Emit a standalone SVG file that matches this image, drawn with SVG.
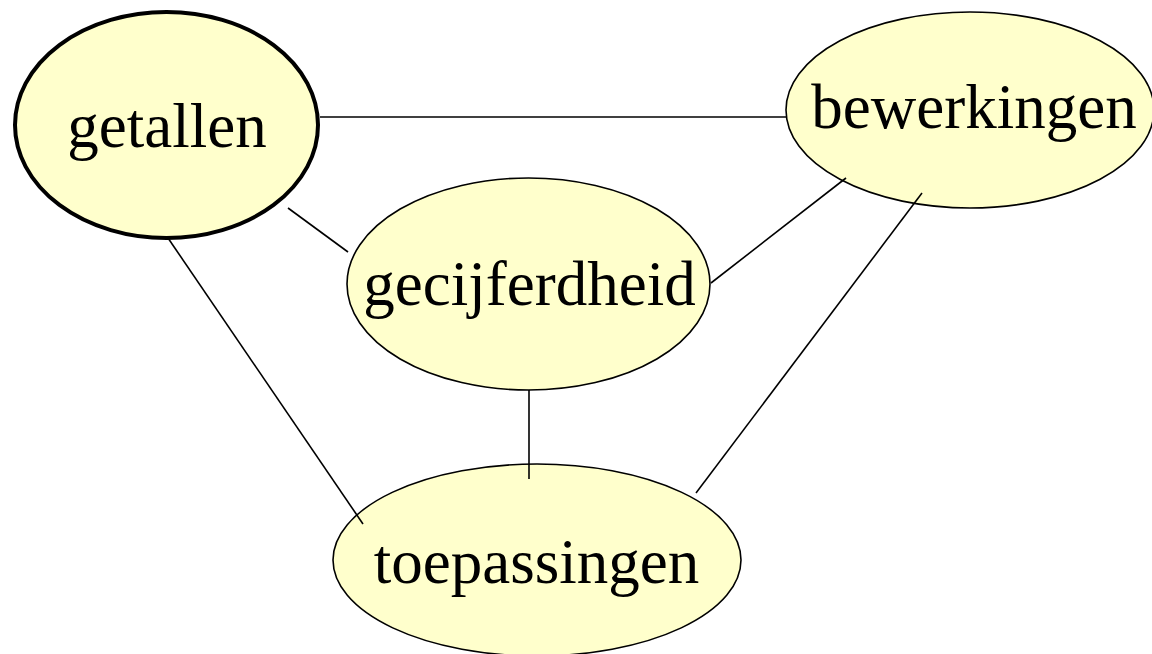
<svg xmlns="http://www.w3.org/2000/svg" width="1152" height="654" viewBox="0 0 1152 654">
  <style>
    .node { fill: #ffffcc; stroke: #000; stroke-width: 1.6; }
    .main { stroke-width: 4; }
    .label { font-family: "Liberation Serif", "Times New Roman", serif; font-size: 63px; fill: #000; text-anchor: middle; }
    .edge { stroke: #000; stroke-width: 1.6; fill: none; }
  </style>
  <rect width="1152" height="654" fill="#fff"/>
  <g id="getallen">
    <ellipse class="node main" cx="166.5" cy="125" rx="151.5" ry="113"/>
    <text class="label" x="167" y="147">getallen</text>
  </g>
  <g id="bewerkingen">
    <ellipse class="node" cx="970" cy="110" rx="184" ry="98"/>
    <text class="label" x="974" y="128">bewerkingen</text>
  </g>
  <g id="gecijferdheid">
    <ellipse class="node" cx="528.5" cy="284" rx="181.5" ry="106"/>
    <text class="label" x="529.5" y="305">gecijferdheid</text>
  </g>
  <g id="toepassingen">
    <ellipse class="node" cx="537" cy="560" rx="204" ry="96"/>
    <text class="label" x="536.5" y="583">toepassingen</text>
  </g>
  <!-- connectors sit on top of the nodes; their ends poke slightly into the ellipses -->
  <g id="connectors">
    <line class="edge" x1="320" y1="117" x2="786" y2="117"/>
    <line class="edge" x1="288" y1="208" x2="348" y2="252"/>
    <line class="edge" x1="168" y1="238" x2="363" y2="524"/>
    <line class="edge" x1="711" y1="283" x2="846" y2="178"/>
    <line class="edge" x1="922" y1="193" x2="696" y2="493"/>
    <line class="edge" x1="529" y1="390" x2="529" y2="479"/>
  </g>
</svg>
